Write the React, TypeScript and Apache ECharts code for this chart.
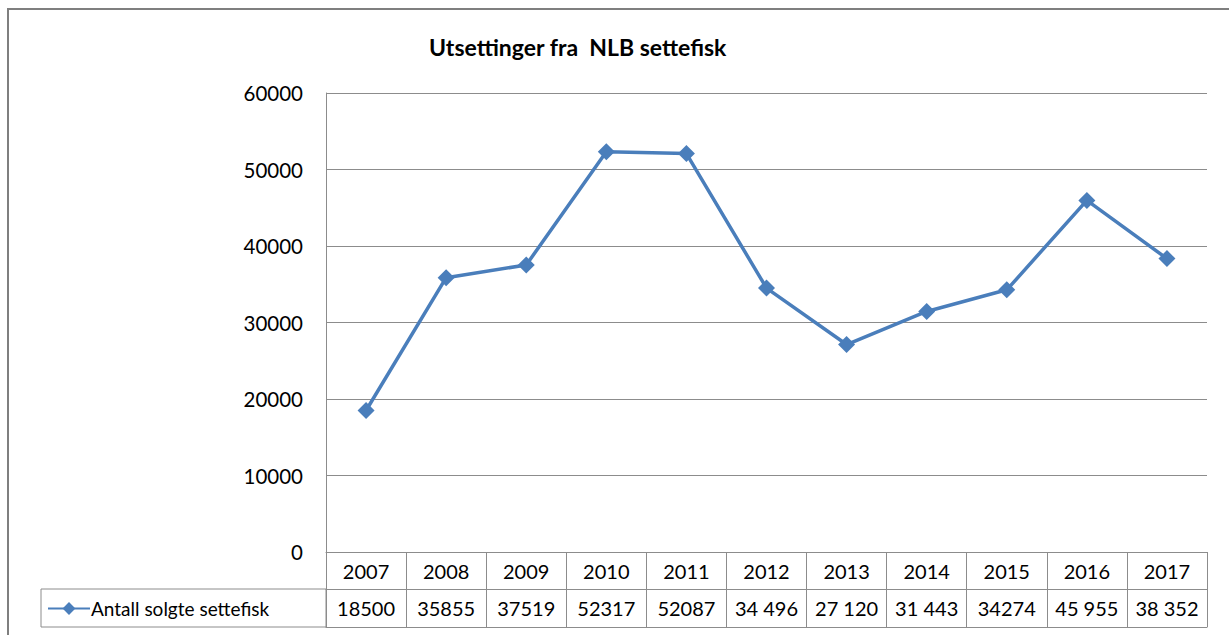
import React, { useEffect, useRef } from "react";
import * as echarts from "echarts";

const years = ["2007", "2008", "2009", "2010", "2011", "2012", "2013", "2014", "2015", "2016", "2017"];
const values = [18500, 35855, 37519, 52317, 52087, 34496, 27120, 31443, 34274, 45955, 38352];
const tableLabels = ["18500", "35855", "37519", "52317", "52087", "34 496", "27 120", "31 443", "34274", "45 955", "38 352"];
const seriesName = "Antall solgte settefisk";
const titleText = "Utsettinger fra  NLB settefisk";

const FONT = "Lato, 'Open Sans', sans-serif";
const GRAY = "#8c8c8c";
const BLUE = "#4a7ebb";

export default function App() {
  const ref = useRef<HTMLDivElement>(null);
  useEffect(() => {
    if (!ref.current) return;
    const chart = echarts.init(ref.current, null, { renderer: "svg" });
    chart.setOption({
      animation: false,
      backgroundColor: "#ffffff",
      textStyle: { fontFamily: FONT },
      title: {
        text: titleText,
        left: 424,
        top: 30,
        textStyle: { fontFamily: FONT, fontSize: 23, fontWeight: "bold", color: "#000" },
      },
      grid: { left: 326, right: 22, top: 93, bottom: 83, containLabel: false },
      legend: {
        left: 42,
        top: 594,
        itemWidth: 42,
        itemHeight: 16,
        itemGap: 0,
        data: [seriesName],
        textStyle: { fontFamily: FONT, fontSize: 19, color: "#000", padding: [0, 0, 0, -4] },
      },
      xAxis: [
        {
          type: "category",
          data: years,
          boundaryGap: true,
          position: "bottom",
          axisLine: { show: true, lineStyle: { color: GRAY, width: 1 } },
          axisTick: { show: true, alignWithLabel: false, interval: 0, length: 75, lineStyle: { color: GRAY } },
          axisLabel: { fontFamily: FONT, fontSize: 20, color: "#000", margin: 9, interval: 0 },
          splitLine: { show: false },
        },
        {
          type: "category",
          data: tableLabels,
          boundaryGap: true,
          position: "bottom",
          offset: 37,
          axisLine: { show: true, lineStyle: { color: GRAY, width: 1 } },
          axisTick: { show: false },
          axisLabel: { fontFamily: FONT, fontSize: 20, color: "#000", margin: 9, interval: 0 },
          splitLine: { show: false },
        },
        {
          type: "category",
          data: years,
          boundaryGap: true,
          position: "bottom",
          offset: 75,
          axisLine: { show: true, lineStyle: { color: GRAY, width: 1 } },
          axisTick: { show: false },
          axisLabel: { show: false },
          splitLine: { show: false },
        },
      ],
      yAxis: {
        type: "value",
        min: 0,
        max: 60000,
        interval: 10000,
        axisLine: { show: true, lineStyle: { color: GRAY, width: 1 } },
        axisTick: { show: false },
        axisLabel: { fontFamily: FONT, fontSize: 20.5, color: "#000", margin: 23, formatter: (v: number) => String(v) },
        splitLine: { show: true, lineStyle: { color: GRAY, width: 1 } },
      },
      graphic: [
        {
          type: "rect",
          z: -1,
          shape: { x: 8, y: 9, width: 1400, height: 800 },
          style: { fill: "none", stroke: "#7f7f7f", lineWidth: 2 },
        },
        {
          type: "rect",
          shape: { x: 41, y: 589, width: 285, height: 38 },
          style: { fill: "none", stroke: GRAY, lineWidth: 1 },
        },
      ],
      series: [
        {
          name: seriesName,
          type: "line",
          data: values,
          xAxisIndex: 0,
          symbol: "diamond",
          symbolSize: 17,
          lineStyle: { color: BLUE, width: 3.5 },
          itemStyle: { color: BLUE },
        },
      ],
    });
    return () => chart.dispose();
  }, []);
  return <div ref={ref} style={{ position: "absolute", left: 0, top: 0, width: 1229, height: 635 }} />;
}
